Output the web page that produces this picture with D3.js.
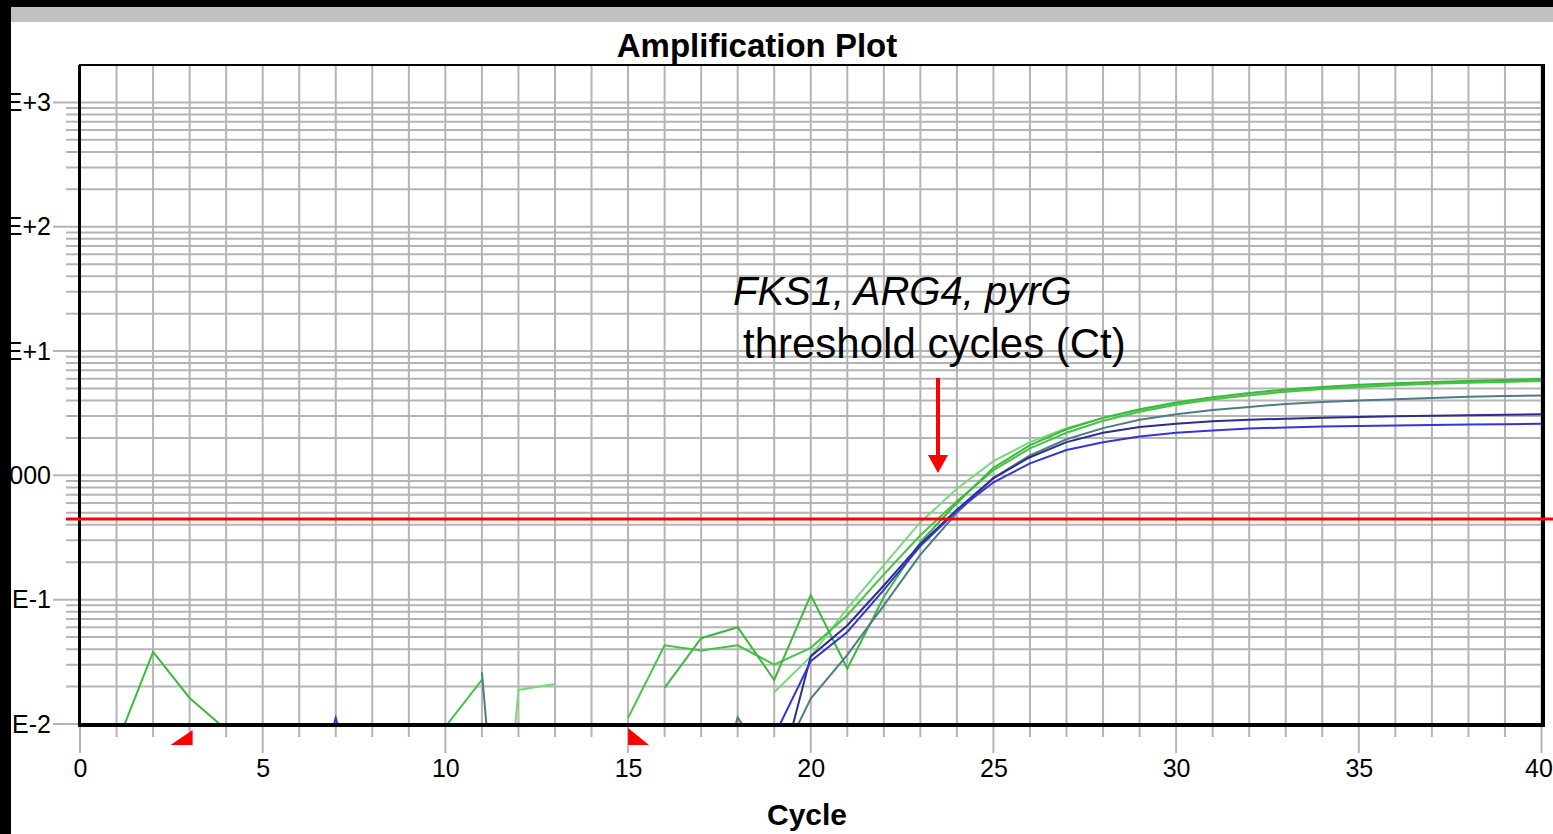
<!DOCTYPE html>
<html>
<head>
<meta charset="utf-8">
<script src="https://cdn.jsdelivr.net/npm/d3@7"></script>
<style>
  body { margin: 0; background: #fff; }
  svg { display: block; }
  text { font-family: "Liberation Sans", Arial, sans-serif; }
</style>
</head>
<body>
<script>
// cycle index 0..40, null = not plotted (negative dRn)
var cycles = d3.range(0, 41);
var xTickValues = [0, 5, 10, 15, 20, 25, 30, 35, 40];
var yTickValues = [0.01, 0.1, 1, 10, 100, 1000];
var yTickLabels = ["E-2", "E-1", "000", "E+1", "E+2", "E+3"];
var threshold = 0.445;
var baselineStart = 3, baselineEnd = 15;

var n = null;
var greenA = [n, n, n, n, n, n, n, n, n, n,
    0.0095, 0.0226, n, n, n, 0.0112, 0.043, 0.039, 0.043, 0.030,
    0.041, 0.075, 0.16, 0.33, 0.62, 1.1, 1.65, 2.2, 2.75, 3.25,
    3.7, 4.1, 4.4, 4.7, 4.95, 5.15, 5.3, 5.45, 5.55, 5.65, 5.75];
var greenB = [n, 0.0068, 0.038, 0.0162, 0.009, n, n, n, n, n,
    n, n, n, n, n, n, 0.0195, 0.049, 0.060, 0.0226,
    0.109, 0.028, 0.105, 0.29, 0.6, 1.15, 1.75, 2.35, 2.9, 3.4,
    3.85, 4.25, 4.6, 4.9, 5.15, 5.35, 5.5, 5.65, 5.75, 5.85, 5.95];
var greenC = [n, n, n, n, n, n, n, n, n, n,
    n, 0.00001, 0.0188, 0.021, n, n, n, n, n, 0.018,
    0.035, 0.085, 0.19, 0.42, 0.78, 1.3, 1.85, 2.4, 2.9, 3.35,
    3.75, 4.1, 4.45, 4.75, 5.0, 5.2, 5.4, 5.55, 5.7, 5.8, 5.9];
var teal = [n, n, n, n, n, n, n, n, n, n,
    n, 0.026, 0.00001, n, n, n, n, 0.001, 0.0113, 0.004,
    0.016, 0.036, 0.09, 0.23, 0.5, 0.95, 1.45, 1.95, 2.4, 2.8,
    3.1, 3.35, 3.55, 3.75, 3.9, 4.0, 4.1, 4.2, 4.28, 4.35, 4.4];
var blue = [n, n, n, n, n, n, 0.001, 0.0112, 0.001, n,
    n, n, n, n, n, n, n, n, n, 0.008,
    0.032, 0.055, 0.12, 0.27, 0.52, 0.88, 1.25, 1.6, 1.85, 2.05,
    2.2, 2.3, 2.38, 2.43, 2.47, 2.5, 2.52, 2.54, 2.56, 2.58, 2.6];
var navy = [n, n, n, n, n, n, n, n, n, n,
    n, n, n, n, n, n, n, n, n, 0.0026,
    0.035, 0.062, 0.13, 0.28, 0.53, 0.95, 1.4, 1.85, 2.2, 2.45,
    2.6, 2.72, 2.8, 2.86, 2.91, 2.95, 2.99, 3.02, 3.05, 3.08, 3.1];

var series = [
    { values: greenC, color: "#7ad87a" },
    { values: greenA, color: "#44c444" },
    { values: greenB, color: "#3cb83c" },
    { values: teal, color: "#4e7c84" },
    { values: navy, color: "#2d2d8c" },
    { values: blue, color: "#3535d5" }
];

var W = 1553, H = 834;
var plotLeft = 80, plotRight = 1541.5, plotTop = 65, plotBottom = 724;

var svg = d3.select("body").append("svg")
    .attr("width", W)
    .attr("height", H);

var x = d3.scaleLinear().domain([0, 40]).range([plotLeft, plotRight]);
var y = d3.scaleLog().domain([0.01, 2000]).range([plotBottom, plotTop]);

// window chrome
svg.append("rect").attr("x", 0).attr("y", 0).attr("width", W).attr("height", 7).attr("fill", "#000");
svg.append("rect").attr("x", 0).attr("y", 7).attr("width", W).attr("height", 15).attr("fill", "#c0c0c0");

// horizontal grid (log decades + minors)
var hLines = [];
yTickValues.forEach(function (d) {
    for (var k = 1; k <= 9; k++) hLines.push({ v: d * k, major: k === 1 });
});
svg.append("g").selectAll("line")
    .data(hLines.filter(function (d) { return d.v < 2000; }))
    .enter().append("line")
    .attr("x1", function (d) { return d.major ? 53 : 66; })
    .attr("x2", plotRight)
    .attr("y1", function (d) { return y(d.v); })
    .attr("y2", function (d) { return y(d.v); })
    .attr("stroke", "#b4b4b4")
    .attr("stroke-width", 2);

// vertical grid, one per cycle
svg.append("g").selectAll("line")
    .data(cycles)
    .enter().append("line")
    .attr("x1", function (d) { return x(d); })
    .attr("x2", function (d) { return x(d); })
    .attr("y1", plotTop)
    .attr("y2", function (d) { return d % 5 === 0 ? 753 : 737; })
    .attr("stroke", "#b4b4b4")
    .attr("stroke-width", 2);

// curves
svg.append("clipPath").attr("id", "plot")
    .append("rect").attr("x", plotLeft).attr("y", plotTop)
    .attr("width", plotRight - plotLeft).attr("height", plotBottom - plotTop);

var line = d3.line()
    .defined(function (d) { return d != null; })
    .x(function (d, i) { return x(cycles[i]); })
    .y(function (d) { return y(d); });

svg.append("g").attr("clip-path", "url(#plot)")
    .selectAll("path")
    .data(series)
    .enter().append("path")
    .attr("d", function (d) { return line(d.values); })
    .attr("fill", "none")
    .attr("stroke", function (d) { return d.color; })
    .attr("stroke-width", 2);

// frame
svg.append("line").attr("x1", plotLeft - 1).attr("x2", plotRight + 2).attr("y1", plotTop).attr("y2", plotTop)
    .attr("stroke", "#000").attr("stroke-width", 2);
svg.append("line").attr("x1", plotLeft - 1).attr("x2", plotRight + 3).attr("y1", 725).attr("y2", 725)
    .attr("stroke", "#000").attr("stroke-width", 4);
svg.append("line").attr("x1", plotLeft - 0.5).attr("x2", plotLeft - 0.5).attr("y1", plotTop).attr("y2", 727)
    .attr("stroke", "#000").attr("stroke-width", 3);
svg.append("line").attr("x1", plotRight + 1.5).attr("x2", plotRight + 1.5).attr("y1", plotTop - 1).attr("y2", 727)
    .attr("stroke", "#000").attr("stroke-width", 4);

// threshold
svg.append("line")
    .attr("x1", 66).attr("x2", W)
    .attr("y1", y(threshold)).attr("y2", y(threshold))
    .attr("stroke", "#ff0000").attr("stroke-width", 3);

// baseline markers
var bs = x(baselineStart), be = x(baselineEnd);
svg.append("path")
    .attr("d", "M" + (bs + 3) + ",730 L" + (bs + 3) + ",745 L" + (bs - 19) + ",745 Z")
    .attr("fill", "#ff0000");
svg.append("path")
    .attr("d", "M" + be + ",728 L" + be + ",745 L" + (be + 21) + ",745 Z")
    .attr("fill", "#ff0000");

// axes labels
var xAxis = d3.axisBottom(x).tickValues(xTickValues).tickSize(0).tickPadding(34);
var gx = svg.append("g").attr("transform", "translate(0,725)").call(xAxis);
gx.select(".domain").remove();
gx.selectAll("text").attr("font-size", 25).attr("fill", "#000")
    .attr("font-family", "Liberation Sans, Arial, sans-serif")
    .attr("dx", function (d) { return d === 40 ? -3 : 0; });

var yAxis = d3.axisLeft(y).tickValues(yTickValues).tickSize(0).tickPadding(0)
    .tickFormat(function (d, i) { return yTickLabels[i]; });
var gy = svg.append("g").attr("transform", "translate(51,0)").call(yAxis);
gy.select(".domain").remove();
gy.selectAll("text").attr("font-size", 25).attr("fill", "#000")
    .attr("font-family", "Liberation Sans, Arial, sans-serif");

// left window edge (covers the start of the y labels)
svg.append("rect").attr("x", 0).attr("y", 0).attr("width", 11).attr("height", H).attr("fill", "#000");

// titles
svg.append("text").attr("x", 757).attr("y", 57)
    .attr("text-anchor", "middle").attr("font-size", 33).attr("font-weight", "bold")
    .text("Amplification Plot");
svg.append("text").attr("x", 807).attr("y", 825)
    .attr("text-anchor", "middle").attr("font-size", 30).attr("font-weight", "bold")
    .text("Cycle");

// annotation
svg.append("text").attr("x", 733).attr("y", 305)
    .attr("font-size", 40).attr("font-style", "italic")
    .text("FKS1, ARG4, pyrG");
svg.append("text").attr("x", 743).attr("y", 358)
    .attr("font-size", 42)
    .text("threshold cycles (Ct)");

svg.append("line").attr("x1", 938).attr("x2", 938).attr("y1", 378).attr("y2", 458)
    .attr("stroke", "#ff0000").attr("stroke-width", 4);
svg.append("path").attr("d", "M928,455 L948,455 L938,473 Z").attr("fill", "#ff0000");
</script>
</body>
</html>
